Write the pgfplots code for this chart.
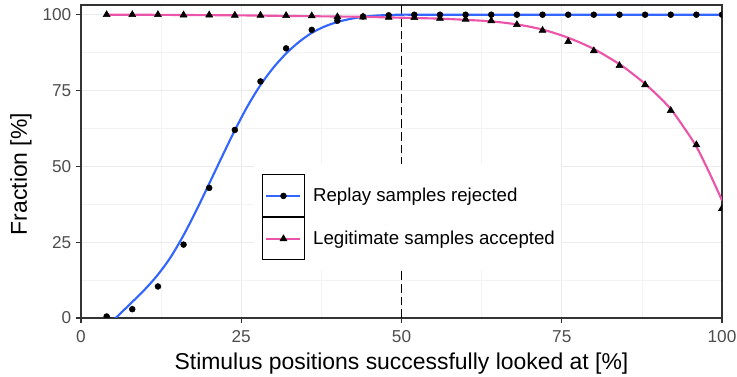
\documentclass[border=0pt]{standalone}
\usepackage{fontspec}
\setmainfont{Liberation Sans}
\usepackage{pgfplots}
\usepackage{pgfplotstable}
\pgfplotsset{compat=1.18}

\definecolor{replayblue}{HTML}{3366FF}
\definecolor{legitpink}{HTML}{EA55A9}
\definecolor{gridmajor}{HTML}{EBEBEB}
\definecolor{gridminor}{HTML}{F3F3F3}
\definecolor{framegrey}{HTML}{333333}
\definecolor{ticktext}{HTML}{4D4D4D}

% measured fractions per stimulus share
\pgfplotstableread{
x    replay legit
4    0.5    100.0
8    2.9    100.0
12   10.4   100.0
16   24.2   99.9
20   42.9   99.9
24   62.0   99.8
28   78.0   99.8
32   88.9   99.7
36   95.0   99.6
40   98.0   99.3
44   99.4   99.2
48   99.8   99.1
52   100.0  99.0
56   100.0  98.8
60   100.0  98.5
64   100.0  98.0
68   100.0  96.7
72   100.0  94.8
76   100.0  91.1
80   100.0  88.1
84   100.0  83.2
88   100.0  76.9
92   100.0  68.4
96   100.0  57.1
100  100.0  36.1
}\measured

% smoothed fits
\pgfplotstableread{
x   y
4   -2.9
6   1.2
8   5.3
10  9.5
12  14.3
14  20.1
16  27.3
18  35.5
20  44.3
22  53.2
24  61.9
26  69.9
28  76.8
30  82.5
32  87.2
34  91.0
36  94.0
38  96.1
40  97.6
42  98.6
44  99.3
46  99.7
48  99.9
50  100.0
52  100.0
56  100.0
60  100.0
64  100.0
68  100.0
72  100.0
76  100.0
80  100.0
84  100.0
88  100.0
92  100.0
96  100.0
100 100.0
}\replayfit

\pgfplotstableread{
x   y
4   100.0
8   100.0
12  99.95
16  99.9
20  99.85
24  99.8
28  99.7
32  99.6
36  99.5
40  99.4
44  99.3
48  99.1
52  98.9
56  98.7
60  98.3
64  97.8
68  96.8
72  95.1
76  92.4
80  88.7
84  83.7
86  80.6
88  77.2
90  73.3
92  68.9
94  63.0
96  56.5
98  48.0
100 38.8
}\legitfit

\pgfplotsset{
  keybox/.style n args={3}{legend image code/.code={
    \draw[black, line width=0.7pt] (0pt,-15.75pt) rectangle (31.5pt,15.75pt);
    \draw[#1, line width=1.6pt] (3pt,0pt) -- (28.5pt,0pt);
    \draw[black, mark=#2, mark size=#3, mark options={solid, fill=black}] plot coordinates {(15.75pt,0pt)};
    \path (37.8pt,0pt);
  }}
}

\begin{document}
\begin{tikzpicture}
\useasboundingbox (-60.75pt,-44.25pt) rectangle (492pt,238.5pt);
\begin{axis}[
  at={(0pt,0pt)}, anchor=south west,
  scale only axis, width=480.75pt, height=234.75pt,
  xmin=0, xmax=100, ymin=0, ymax=103.2,
  xtick={0,25,50,75,100}, ytick={0,25,50,75,100},
  minor xtick={12.5,37.5,62.5,87.5}, minor ytick={12.5,37.5,62.5,87.5},
  grid=both,
  major grid style={gridmajor, line width=0.8pt},
  minor grid style={gridminor, line width=0.5pt},
  tick align=outside, major tick length=3.75pt, minor tick length=0pt,
  tick style={framegrey, line width=0.8pt},
  axis line style={framegrey, line width=0.8pt},
  xtick pos=bottom, ytick pos=left,
  /pgf/number format/assume math mode=true,
  ticklabel style={font=\fontsize{12.9}{14}\selectfont, text=ticktext},
  xticklabel style={yshift=-2pt},
  xlabel={Stimulus positions successfully looked at [\%]},
  ylabel={Fraction [\%]},
  label style={font=\fontsize{17.2}{20}\selectfont},
  xlabel style={at={(axis description cs:0.5,-0.1661)}, anchor=base},
  ylabel style={at={(axis description cs:-0.0843,0.46)}, anchor=base},
  clip marker paths=true,
  legend style={at={(0.2699,0.4915)}, anchor=north west, draw=none, fill=white,
    inner xsep=5.8pt, inner ysep=7.5pt, row sep=0pt,
    nodes={inner sep=0pt}, font=\fontsize{14}{16}\selectfont},
  legend cell align=left,
]
% threshold
\addplot[black, line width=0.8pt, dash pattern=on 6.5pt off 3pt, forget plot]
  coordinates {(50,0) (50,110)};

% fitted curves
\addplot[replayblue, line width=1.6pt, smooth, forget plot] table[x=x, y=y] {\replayfit};
\addplot[legitpink, line width=1.6pt, smooth, forget plot] table[x=x, y=y] {\legitfit};

% measured points
\addplot[only marks, mark=*, mark size=2.2pt, black, forget plot] table[x=x, y=replay] {\measured};
\addplot[only marks, mark=triangle*, mark size=3pt, black, forget plot] table[x=x, y=legit] {\measured};

\addlegendimage{keybox={replayblue}{*}{2.2pt}}
\addlegendentry{\makebox[180pt][l]{Replay samples rejected}}
\addlegendimage{keybox={legitpink}{triangle*}{3pt}}
\addlegendentry{\makebox[180pt][l]{Legitimate samples accepted}}
\end{axis}
\end{tikzpicture}
\end{document}
